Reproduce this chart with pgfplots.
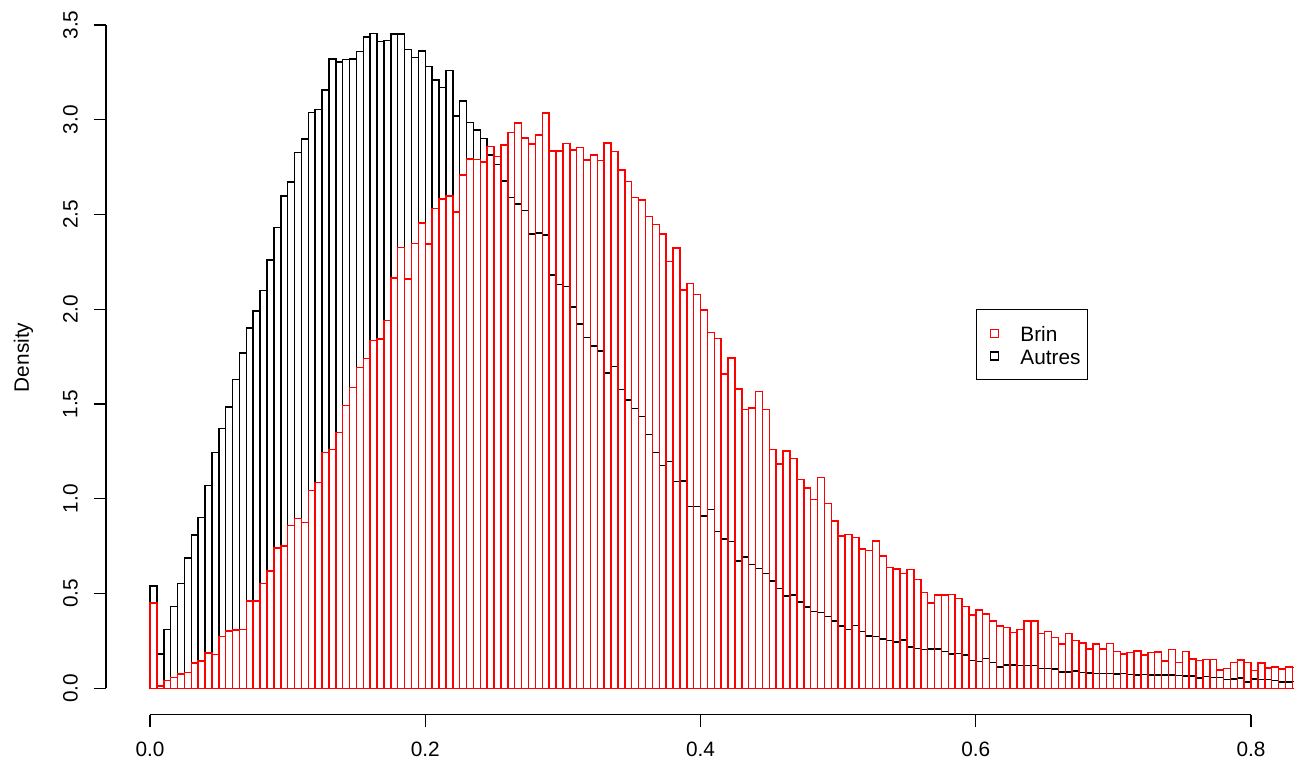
\documentclass[border=0pt]{standalone}
\usepackage{fontspec}
\setmainfont{Liberation Sans}
\usepackage{pgfplots}
\usepackage{pgfplotstable}
\pgfplotsset{compat=1.18}

% Histogram densities, bins of width 0.005 (left edges); the last row only closes the last bin
\pgfplotstableread{
x     brin  autres
0.000 0.450 0.541
0.005 0.013 0.180
0.010 0.040 0.309
0.015 0.057 0.432
0.020 0.075 0.553
0.025 0.083 0.687
0.030 0.133 0.808
0.035 0.144 0.900
0.040 0.186 1.069
0.045 0.177 1.244
0.050 0.273 1.371
0.055 0.303 1.484
0.060 0.307 1.630
0.065 0.310 1.770
0.070 0.460 1.900
0.075 0.460 1.990
0.080 0.553 2.100
0.085 0.618 2.260
0.090 0.740 2.432
0.095 0.750 2.599
0.100 0.860 2.671
0.105 0.896 2.827
0.110 0.875 2.898
0.115 1.044 3.039
0.120 1.086 3.055
0.125 1.244 3.157
0.130 1.260 3.320
0.135 1.350 3.306
0.140 1.491 3.317
0.145 1.586 3.320
0.150 1.693 3.361
0.155 1.739 3.438
0.160 1.835 3.456
0.165 1.843 3.413
0.170 1.941 3.417
0.175 2.165 3.452
0.180 2.326 3.452
0.185 2.159 3.371
0.190 2.347 3.329
0.195 2.455 3.364
0.200 2.344 3.280
0.205 2.533 3.210
0.210 2.581 3.170
0.215 2.599 3.260
0.220 2.514 3.020
0.225 2.708 3.100
0.230 2.794 2.986
0.235 2.789 2.946
0.240 2.777 2.901
0.245 2.859 2.815
0.250 2.806 2.763
0.255 2.868 2.676
0.260 2.933 2.590
0.265 2.984 2.555
0.270 2.905 2.520
0.275 2.872 2.398
0.280 2.919 2.402
0.285 3.035 2.393
0.290 2.836 2.182
0.295 2.836 2.130
0.300 2.875 2.120
0.305 2.840 2.013
0.310 2.854 1.923
0.315 2.787 1.850
0.320 2.814 1.806
0.325 2.784 1.779
0.330 2.877 1.665
0.335 2.833 1.698
0.340 2.735 1.577
0.345 2.674 1.522
0.350 2.590 1.477
0.355 2.576 1.434
0.360 2.490 1.338
0.365 2.448 1.243
0.370 2.397 1.176
0.375 2.251 1.197
0.380 2.323 1.091
0.385 2.101 1.095
0.390 2.137 0.958
0.395 2.077 0.958
0.400 1.997 0.909
0.405 1.878 0.944
0.410 1.846 0.828
0.415 1.658 0.789
0.420 1.744 0.775
0.425 1.579 0.671
0.430 1.471 0.694
0.435 1.479 0.652
0.440 1.566 0.632
0.445 1.470 0.606
0.450 1.259 0.566
0.455 1.183 0.527
0.460 1.252 0.488
0.465 1.213 0.491
0.470 1.102 0.455
0.475 1.056 0.430
0.480 0.996 0.405
0.485 1.111 0.400
0.490 0.976 0.379
0.495 0.882 0.356
0.500 0.803 0.330
0.505 0.812 0.309
0.510 0.796 0.332
0.515 0.734 0.300
0.520 0.726 0.277
0.525 0.778 0.272
0.530 0.699 0.261
0.535 0.638 0.252
0.540 0.629 0.245
0.545 0.606 0.256
0.550 0.627 0.219
0.555 0.573 0.210
0.560 0.506 0.205
0.565 0.451 0.208
0.570 0.493 0.207
0.575 0.492 0.194
0.580 0.495 0.180
0.585 0.474 0.184
0.590 0.432 0.175
0.595 0.386 0.146
0.600 0.414 0.141
0.605 0.391 0.157
0.610 0.356 0.136
0.615 0.330 0.113
0.620 0.321 0.122
0.625 0.295 0.122
0.630 0.309 0.119
0.635 0.356 0.119
0.640 0.356 0.119
0.645 0.289 0.105
0.650 0.300 0.105
0.655 0.268 0.101
0.660 0.233 0.087
0.665 0.289 0.087
0.670 0.251 0.092
0.675 0.238 0.083
0.680 0.207 0.080
0.685 0.233 0.078
0.690 0.207 0.078
0.695 0.237 0.079
0.700 0.193 0.075
0.705 0.180 0.077
0.710 0.189 0.073
0.715 0.196 0.071
0.720 0.175 0.073
0.725 0.189 0.070
0.730 0.191 0.070
0.735 0.145 0.070
0.740 0.205 0.070
0.745 0.135 0.068
0.750 0.194 0.064
0.755 0.154 0.064
0.760 0.147 0.054
0.765 0.152 0.061
0.770 0.152 0.057
0.775 0.096 0.057
0.780 0.105 0.046
0.785 0.135 0.050
0.790 0.149 0.054
0.795 0.136 0.034
0.800 0.094 0.050
0.805 0.133 0.046
0.810 0.107 0.046
0.815 0.113 0.040
0.820 0.103 0.034
0.825 0.112 0.034
0.830 0.110 0.035
0.835 0.110 0.035
}\hist

\newcommand\lblfont{\fontsize{10.4}{12}\selectfont}

\begin{document}
\begin{tikzpicture}
\begin{axis}[
  at={(0,0)}, anchor=south west,
  scale only axis, width=594pt, height=357.4pt,
  xmin=-0.032, xmax=0.8312, ymin=-0.14, ymax=3.632,
  clip=false,
  axis x line*=bottom, axis y line*=left,
  axis line style={draw=none},
  tick align=outside,
  major tick length=6.2pt,
  tick style={black, line width=0.6pt},
  xtick={0,0.2,0.4,0.6,0.8},
  xticklabels={0.0,0.2,0.4,0.6,0.8},
  ytick={0,0.5,1,1.5,2,2.5,3,3.5},
  yticklabels={0.0,0.5,1.0,1.5,2.0,2.5,3.0,3.5},
  xticklabel style={font=\lblfont, anchor=center, yshift=-11.3pt},
  yticklabel style={font=\lblfont, xshift=-11.6pt, rotate=90, anchor=center},
  legend style={at={(axis cs:0.6,2.0)}, anchor=north west,
    draw=black, line width=0.6pt, font=\lblfont,
    inner xsep=0pt, inner ysep=6.25pt, row sep=0pt, column sep=0pt,
    nodes={inner sep=0pt},
    /tikz/every even column/.append style={inner sep=0pt,
      text height=9.7pt, text depth=2.3pt, text width=33.5pt, align=left}},
  legend cell align=left,
  reverse legend,
]
  % "Autres" first, "Brin" drawn over it
  \addplot[ybar interval, draw=black, fill=none, line width=0.75pt,
    legend image code/.code={\path[draw=none, fill=none] (0pt,0pt) -- (22pt,0pt);
      \draw[black, line width=0.6pt] (7pt,-2pt) rectangle (11pt,2pt);}]
    table[x=x, y=autres] {\hist};
  \addlegendentry{Autres}
  \addplot[ybar interval, draw=red, fill=none, line width=0.75pt,
    legend image code/.code={\path[draw=none, fill=none] (0pt,0pt) -- (22pt,0pt);
      \draw[red, line width=0.6pt] (7pt,-2pt) rectangle (11pt,2pt);}]
    table[x=x, y=brin] {\hist};
  \addlegendentry{Brin}

  % axis lines spanning the tick range only
  \draw[line width=0.6pt] (axis cs:0,-0.14) -- (axis cs:0.8,-0.14);
  \draw[line width=0.6pt] (axis cs:-0.032,0) -- (axis cs:-0.032,3.5);
  \node[rotate=90, font=\lblfont] at (axis cs:-0.092,1.746) {Density};
\end{axis}
\pgfresetboundingbox
\useasboundingbox (-52.98pt,-25.1pt) rectangle (594pt,357.4pt);
\end{tikzpicture}
\end{document}
